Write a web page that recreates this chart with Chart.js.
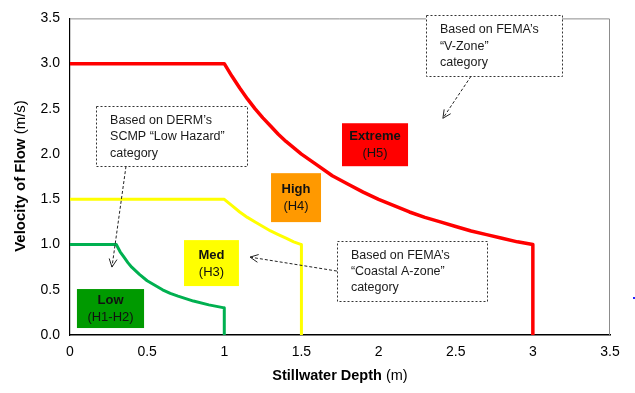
<!DOCTYPE html>
<html>
<head>
<meta charset="utf-8">
<script src="https://cdn.jsdelivr.net/npm/chart.js@4/dist/chart.umd.min.js"></script>
<style>
html,body{margin:0;padding:0;background:#fff;}
#wrap{width:635px;height:393px;position:relative;}
</style>
</head>
<body>
<div id="wrap"><canvas id="c" width="635" height="393"></canvas></div>
<script>
// ---- Data ----
const extremeDepth = [0, 1.0, 1.05, 1.1, 1.15, 1.2, 1.25, 1.3, 1.35, 1.4, 1.5, 1.6, 1.7, 1.8, 1.9, 2.0, 2.1, 2.2, 2.3, 2.4, 2.5, 2.6, 2.7, 2.8, 2.9, 3.0, 3.0];
const extremeVel   = [3.0, 3.0, 2.86, 2.73, 2.61, 2.5, 2.4, 2.31, 2.22, 2.14, 2.0, 1.88, 1.76, 1.67, 1.58, 1.5, 1.43, 1.36, 1.30, 1.25, 1.2, 1.15, 1.11, 1.07, 1.03, 1.0, 0.0];
const medDepth     = [0, 1.0, 1.05, 1.1, 1.15, 1.2, 1.25, 1.3, 1.35, 1.4, 1.45, 1.5, 1.5];
const medVel       = [1.5, 1.5, 1.43, 1.36, 1.30, 1.25, 1.2, 1.15, 1.11, 1.07, 1.03, 1.0, 0.0];
const lowDepth     = [0, 0.3, 0.325, 0.35, 0.375, 0.4, 0.45, 0.5, 0.55, 0.6, 0.65, 0.7, 0.8, 0.9, 1.0, 1.0];
const lowVel       = [1.0, 1.0, 0.92, 0.86, 0.80, 0.75, 0.67, 0.6, 0.55, 0.5, 0.46, 0.43, 0.375, 0.333, 0.3, 0.0];
const xTickLabels  = ['0', '0.5', '1', '1.5', '2', '2.5', '3', '3.5'];
const yTickLabels  = ['0.0', '0.5', '1.0', '1.5', '2.0', '2.5', '3.0', '3.5'];
const xTitleBold = 'Stillwater Depth ', xTitleNorm = '(m)';
const yTitleBold = 'Velocity of Flow ', yTitleNorm = '(m/s)';

// hazard category labels (box extents in data units)
const hazardBoxes = [
  {x0:1.763, x1:2.191, y0:1.866, y1:2.341, fill:'#FF0000', bold:'Extreme', norm:'(H5)'},
  {x0:1.303, x1:1.627, y0:1.248, y1:1.789, fill:'#FF9900', bold:'High', norm:'(H4)'},
  {x0:0.739, x1:1.095, y0:0.541, y1:1.049, fill:'#FFFF00', bold:'Med', norm:'(H3)'},
  {x0:0.045, x1:0.480, y0:0.077, y1:0.508, fill:'#009A00', bold:'Low', norm:'(H1-H2)'}
];
// callouts (box extents in data units, arrow from -> to in data units)
const callouts = [
  {x0:0.169, x1:1.147, y0:1.866, y1:2.528, lines:['Based on DERM\u2019s','SCMP \u201CLow Hazard\u201D','category'],
   from:[0.363,1.866], to:[0.272,0.751]},
  {x0:2.307, x1:3.189, y0:2.860, y1:3.533, lines:['Based on FEMA\u2019s','\u201CV-Zone\u201D','category'],
   from:[2.599,2.860], to:[2.417,2.396]},
  {x0:1.730, x1:2.703, y0:0.375, y1:1.038, lines:['Based on FEMA\u2019s','\u201CCoastal A-zone\u201D','category'],
   from:[1.730,0.707], to:[1.167,0.861]}
];

const FONT = '"Liberation Sans", Arial, sans-serif';
const toPts = (xs, ys) => xs.map((x, i) => ({x: x, y: ys[i]}));

const overlay = {
  id: 'overlay',
  afterDatasetsDraw(chart) {
    const ctx = chart.ctx, xs = chart.scales.x, ys = chart.scales.y, a = chart.chartArea;
    ctx.save();
    // top & right frame in grey
    ctx.strokeStyle = '#8c8c8c'; ctx.lineWidth = 1;
    ctx.beginPath();
    ctx.moveTo(a.left, a.top + 0.5); ctx.lineTo(a.right - 0.5, a.top + 0.5); ctx.lineTo(a.right - 0.5, a.bottom);
    ctx.stroke();

    // hazard boxes
    hazardBoxes.forEach(b => {
      const L = xs.getPixelForValue(b.x0), R = xs.getPixelForValue(b.x1);
      const T = ys.getPixelForValue(b.y1), B = ys.getPixelForValue(b.y0);
      ctx.fillStyle = b.fill; ctx.fillRect(L, T, R - L, B - T);
      const cx = (L + R) / 2, cy = (T + B) / 2;
      ctx.fillStyle = '#111'; ctx.textAlign = 'center'; ctx.textBaseline = 'middle';
      ctx.font = 'bold 13px ' + FONT; ctx.fillText(b.bold, cx, cy - 8);
      ctx.font = '13px ' + FONT; ctx.fillText(b.norm, cx, cy + 9);
    });

    // callouts
    callouts.forEach(c => {
      const L = xs.getPixelForValue(c.x0), R = xs.getPixelForValue(c.x1);
      const T = ys.getPixelForValue(c.y1), B = ys.getPixelForValue(c.y0);
      ctx.fillStyle = '#fff'; ctx.fillRect(L, T, R - L, B - T);
      ctx.strokeStyle = '#333'; ctx.lineWidth = 1; ctx.setLineDash([2, 2]);
      ctx.strokeRect(Math.round(L) + 0.5, Math.round(T) + 0.5, Math.round(R - L), Math.round(B - T));
      ctx.fillStyle = '#1a1a1a'; ctx.textAlign = 'left'; ctx.textBaseline = 'middle';
      ctx.font = '12.5px ' + FONT;
      c.lines.forEach((t, i) => ctx.fillText(t, L + 14, T + 14.5 + i * 16.2));
      // arrow
      const fx = xs.getPixelForValue(c.from[0]), fy = ys.getPixelForValue(c.from[1]);
      const tx = xs.getPixelForValue(c.to[0]), ty = ys.getPixelForValue(c.to[1]);
      ctx.strokeStyle = '#222'; ctx.setLineDash([3, 2]);
      ctx.beginPath(); ctx.moveTo(fx, fy); ctx.lineTo(tx, ty); ctx.stroke();
      const ang = Math.atan2(ty - fy, tx - fx), h = 9;
      ctx.setLineDash([]);
      ctx.beginPath();
      ctx.moveTo(tx - h * Math.cos(ang - 0.45), ty - h * Math.sin(ang - 0.45));
      ctx.lineTo(tx, ty);
      ctx.lineTo(tx - h * Math.cos(ang + 0.45), ty - h * Math.sin(ang + 0.45));
      ctx.stroke();
    });

    // axis titles (mixed weight)
    ctx.setLineDash([]);
    ctx.fillStyle = '#000'; ctx.textBaseline = 'middle'; ctx.textAlign = 'left';
    let fb = 'bold 14.5px ' + FONT, fn = '14.5px ' + FONT;
    ctx.font = fb; const wb = ctx.measureText(xTitleBold).width;
    ctx.font = fn; const wn = ctx.measureText(xTitleNorm).width;
    let sx = (a.left + a.right) / 2 - (wb + wn) / 2;
    ctx.font = fb; ctx.fillText(xTitleBold, sx, 376);
    ctx.font = fn; ctx.fillText(xTitleNorm, sx + wb, 376);

    fb = 'bold 15px ' + FONT; fn = '15px ' + FONT;
    ctx.save();
    ctx.translate(21, 176); ctx.rotate(-Math.PI / 2);
    ctx.font = fb; const vb = ctx.measureText(yTitleBold).width;
    ctx.font = fn; const vn = ctx.measureText(yTitleNorm).width;
    sx = -(vb + vn) / 2;
    ctx.font = fb; ctx.fillText(yTitleBold, sx, 0);
    ctx.font = fn; ctx.fillText(yTitleNorm, sx + vb, 0);
    ctx.restore();

    // small stray blue mark at right edge
    ctx.fillStyle = '#2222ff'; ctx.fillRect(633, 297, 2, 2);
    ctx.restore();
  }
};

new Chart(document.getElementById('c'), {
  type: 'line',
  data: {
    datasets: [
      {label:'Extreme', data: toPts(extremeDepth, extremeVel), borderColor:'#FF0000', borderWidth:3.5},
      {label:'Med', data: toPts(medDepth, medVel), borderColor:'#FFFF00', borderWidth:3},
      {label:'Low', data: toPts(lowDepth, lowVel), borderColor:'#00B050', borderWidth:3}
    ]
  },
  options: {
    responsive: false,
    animation: false,
    parsing: false,
    elements: { point: { radius: 0 }, line: { tension: 0, borderJoinStyle: 'round' } },
    layout: { padding: { top: 18, right: 25, left: 0, bottom: 0 } },
    plugins: { legend: { display: false }, tooltip: { enabled: false } },
    scales: {
      x: {
        type: 'linear', min: 0, max: 3.5,
        grid: { display: false, drawTicks: false },
        border: { display: true, color: '#000', width: 1.5 },
        ticks: { stepSize: 0.5, padding: 9, color: '#000', font: { family: FONT, size: 14 },
                 callback: (v) => xTickLabels[Math.round(v / 0.5)] },
        afterFit: s => { s.height = 58; }
      },
      y: {
        type: 'linear', min: 0, max: 3.5,
        grid: { display: false, drawTicks: false },
        border: { display: true, color: '#000', width: 1.2 },
        ticks: { stepSize: 0.5, padding: 10, color: '#000', font: { family: FONT, size: 14 },
                 callback: (v) => yTickLabels[Math.round(v / 0.5)] },
        afterFit: s => { s.width = 70; }
      }
    }
  },
  plugins: [overlay]
});
</script>
</body>
</html>
